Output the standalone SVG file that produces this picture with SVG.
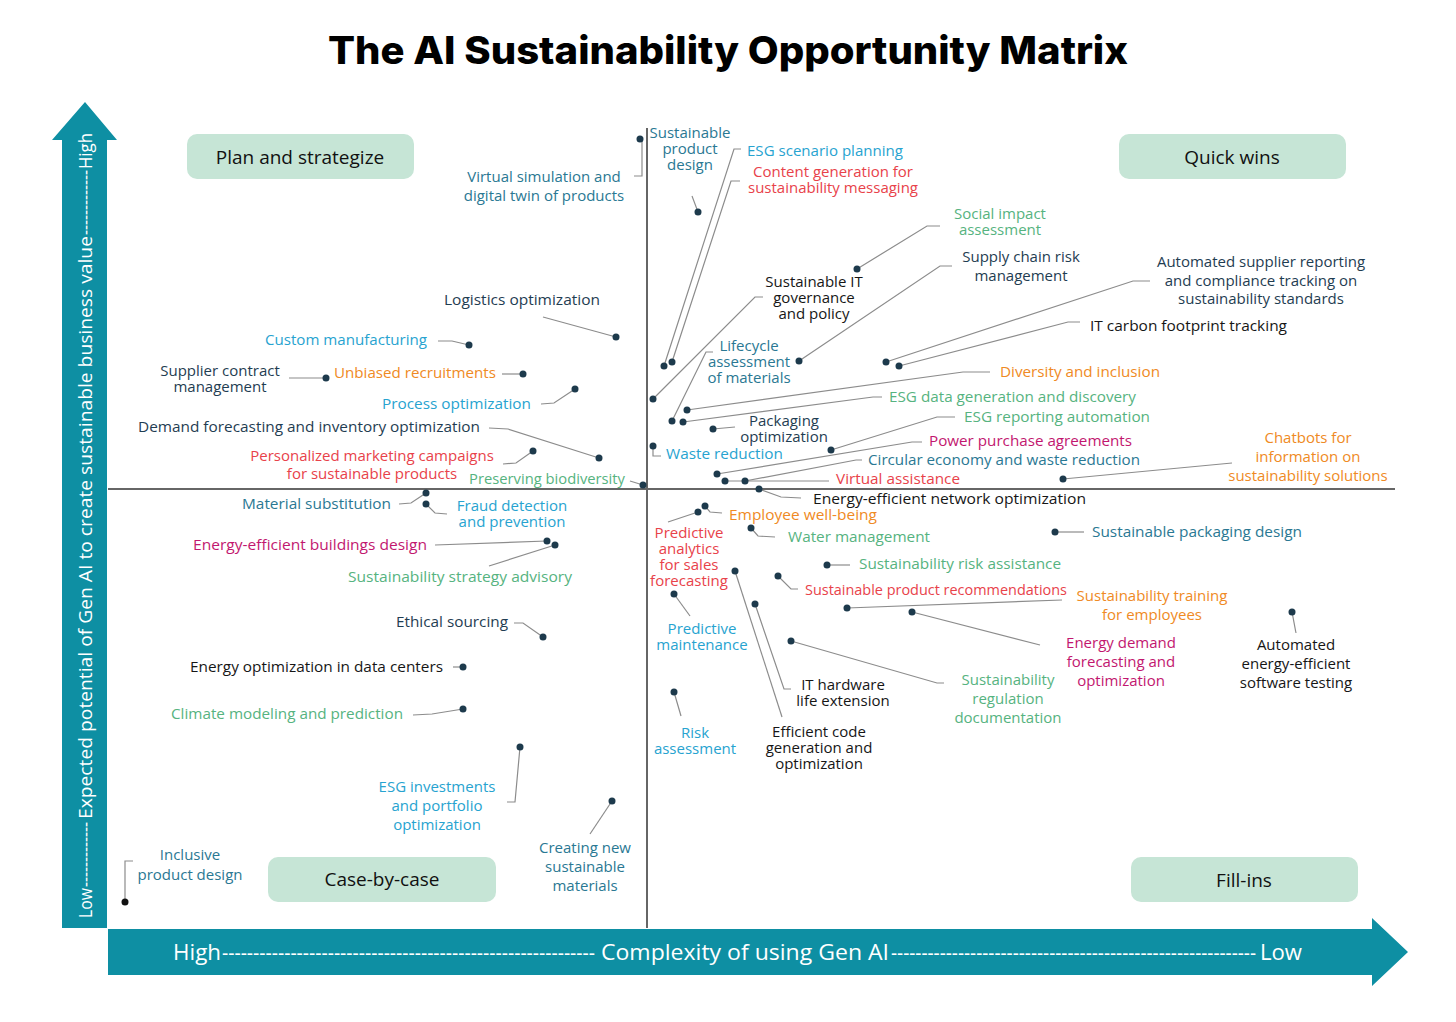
<svg xmlns="http://www.w3.org/2000/svg" width="1456" height="1022" viewBox="0 0 1456 1022">
<style>
text{font-family:"Open Sans","Noto Sans","DejaVu Sans",sans-serif;font-size:15px}
.m{text-anchor:middle}
.navy{fill:#1f3d52}.teal{fill:#2a7893}.lb{fill:#27a3d0}.gr{fill:#56b380}.rd{fill:#e8424a}.mg{fill:#c2176f}.or{fill:#ef8a24}.bk{fill:#161616}
.dot{fill:#1d3a4c}
.ln{fill:none;stroke:#8c8c8c;stroke-width:1.2}
.box{fill:#c6e5d6}
.q{font-size:19px;fill:#111;text-anchor:middle}
.ax{fill:#fff}
</style>
<rect width="1456" height="1022" fill="#fff"/>
<text x="728" y="64" text-anchor="middle" style="font-family:Inter,'Open Sans',sans-serif;font-size:38px;font-weight:800;fill:#000" textLength="800" lengthAdjust="spacingAndGlyphs">The AI Sustainability Opportunity Matrix</text>

<g id="axes">
<line x1="647" y1="128" x2="647" y2="928" stroke="#666" stroke-width="2"/>
<line x1="108" y1="489" x2="1395" y2="489" stroke="#666" stroke-width="2"/>
<polygon points="62,928 62,140 52,140 85,102 117,140 107,140 107,928" fill="#0e8fa3"/>
<polygon points="108,929 1372,929 1372,918 1408,952 1372,986 1372,975 108,975" fill="#0e8fa3"/>
<text class="ax" transform="translate(92,918) rotate(-90)" style="font-size:19px"><tspan x="0" textLength="30" lengthAdjust="spacingAndGlyphs">Low</tspan><tspan x="31" textLength="65" lengthAdjust="spacingAndGlyphs">-------------</tspan><tspan x="99" textLength="583" lengthAdjust="spacingAndGlyphs">Expected potential of Gen AI to create sustainable business value</tspan><tspan x="683" textLength="65" lengthAdjust="spacingAndGlyphs">-------------</tspan><tspan x="749" textLength="36" lengthAdjust="spacingAndGlyphs">High</tspan></text>
<text class="ax" y="960" style="font-size:21px"><tspan x="173" textLength="48" lengthAdjust="spacingAndGlyphs">High</tspan><tspan x="222" textLength="373" lengthAdjust="spacingAndGlyphs">------------------------------------------------------------</tspan><tspan x="601" textLength="288" lengthAdjust="spacingAndGlyphs">Complexity of using Gen AI</tspan><tspan x="891" textLength="365" lengthAdjust="spacingAndGlyphs">------------------------------------------------------------</tspan><tspan x="1260" textLength="42" lengthAdjust="spacingAndGlyphs">Low</tspan></text>
</g>

<g id="quadrants">
<g id="q-plan"><rect class="box" x="187" y="134" width="227" height="45" rx="10"/><text class="q" x="300" y="164">Plan and strategize</text></g>
<g id="q-quick"><rect class="box" x="1119" y="134" width="227" height="45" rx="10"/><text class="q" x="1232" y="164">Quick wins</text></g>
<g id="q-case"><rect class="box" x="268" y="857" width="228" height="45" rx="10"/><text class="q" x="382" y="886">Case-by-case</text></g>
<g id="q-fill"><rect class="box" x="1131" y="857" width="227" height="45" rx="10"/><text class="q" x="1244" y="887">Fill-ins</text></g>
</g>

<g id="connectors">
<polyline class="ln" points="642,141 642,176 634,176"/>
<polyline class="ln" points="692,196 698,212"/>
<polyline class="ln" points="741,149 734,149 664,366"/>
<polyline class="ln" points="740,181 731,181 672,362"/>
<polyline class="ln" points="857,269 927,226 940,226"/>
<polyline class="ln" points="799,361 940,266 952,266"/>
<polyline class="ln" points="763,297 755,297 653,399"/>
<polyline class="ln" points="1150,281 1133,281 886,362"/>
<polyline class="ln" points="1080,322 1068,322 899,366"/>
<polyline class="ln" points="543,317 616,337"/>
<polyline class="ln" points="438,341 452,341 469,345"/>
<polyline class="ln" points="289,378 326,378"/>
<polyline class="ln" points="502,374 523,374"/>
<polyline class="ln" points="541,404 554,403 575,389"/>
<polyline class="ln" points="489,428 508,429 599,458"/>
<polyline class="ln" points="503,464 516,463 533,451"/>
<polyline class="ln" points="630,481 643,485"/>
<polyline class="ln" points="713,352 706,352 672,421"/>
<polyline class="ln" points="713,429 735,427"/>
<polyline class="ln" points="653,446 653,456 661,456"/>
<polyline class="ln" points="687,410 963,372 990,372"/>
<polyline class="ln" points="683,422 873,397 882,397"/>
<polyline class="ln" points="831,450 937,417 955,417"/>
<polyline class="ln" points="717,474 912,442 922,442"/>
<polyline class="ln" points="745,481 856,460 862,460"/>
<polyline class="ln" points="725,481 829,481"/>
<polyline class="ln" points="759,489 781,497 801,498"/>
<polyline class="ln" points="1063,479 1232,463"/>
<polyline class="ln" points="705,506 710,512 722,513"/>
<polyline class="ln" points="698,512 668,522"/>
<polyline class="ln" points="751,528 758,536 775,537"/>
<polyline class="ln" points="827,565 850,565"/>
<polyline class="ln" points="778,576 791,589 798,589"/>
<polyline class="ln" points="847,608 1062,600"/>
<polyline class="ln" points="912,612 1040,645"/>
<polyline class="ln" points="1292,612 1296,633"/>
<polyline class="ln" points="1055,532 1084,532"/>
<polyline class="ln" points="755,604 784,689 791,689"/>
<polyline class="ln" points="735,571 782,717"/>
<polyline class="ln" points="791,641 937,683 944,683"/>
<polyline class="ln" points="674,594 690,616"/>
<polyline class="ln" points="674,692 681,716"/>
<polyline class="ln" points="426,493 411,503 399,504"/>
<polyline class="ln" points="426,504 435,513 447,514"/>
<polyline class="ln" points="435,545 547,541"/>
<polyline class="ln" points="555,545 489,566"/>
<polyline class="ln" points="514,623 523,623 543,637"/>
<polyline class="ln" points="453,667 463,667"/>
<polyline class="ln" points="413,715 432,714 463,709"/>
<polyline class="ln" points="520,747 515,802 507,802"/>
<polyline class="ln" points="612,801 590,834"/>
<polyline class="ln" points="125,902 125,861 133,861"/>
</g>

<g id="n-virtual-sim"><circle class="dot" cx="640" cy="139" r="3.5"/><text class="teal m"><tspan x="544" y="182">Virtual simulation and</tspan><tspan x="544" y="201">digital twin of products</tspan></text></g>
<g id="n-sust-product-design"><circle class="dot" cx="698" cy="212" r="3.5"/><text class="teal m"><tspan x="690" y="138">Sustainable</tspan><tspan x="690" y="154">product</tspan><tspan x="690" y="170">design</tspan></text></g>
<g id="n-esg-scenario"><circle class="dot" cx="664" cy="366" r="3.5"/><text class="lb" x="747" y="156" textLength="156" lengthAdjust="spacingAndGlyphs">ESG scenario planning</text></g>
<g id="n-content-gen"><circle class="dot" cx="672" cy="362" r="3.5"/><text class="rd m"><tspan x="833" y="177">Content generation for</tspan><tspan x="833" y="193">sustainability messaging</tspan></text></g>
<g id="n-social-impact"><circle class="dot" cx="857" cy="269" r="3.5"/><text class="gr m"><tspan x="1000" y="219">Social impact</tspan><tspan x="1000" y="235">assessment</tspan></text></g>
<g id="n-supply-chain"><circle class="dot" cx="799" cy="361" r="3.5"/><text class="navy m"><tspan x="1021" y="262">Supply chain risk</tspan><tspan x="1021" y="281">management</tspan></text></g>
<g id="n-it-gov"><circle class="dot" cx="653" cy="399" r="3.5"/><text class="bk m"><tspan x="814" y="287">Sustainable IT</tspan><tspan x="814" y="303">governance</tspan><tspan x="814" y="319">and policy</tspan></text></g>
<g id="n-auto-supplier"><circle class="dot" cx="886" cy="362" r="3.5"/><text class="navy m"><tspan x="1261" y="267">Automated supplier reporting</tspan><tspan x="1261" y="286">and compliance tracking on</tspan><tspan x="1261" y="304">sustainability standards</tspan></text></g>
<g id="n-it-carbon"><circle class="dot" cx="899" cy="366" r="3.5"/><text class="bk" x="1090" y="331" textLength="197" lengthAdjust="spacingAndGlyphs">IT carbon footprint tracking</text></g>
<g id="n-logistics"><circle class="dot" cx="616" cy="337" r="3.5"/><text class="navy" x="444" y="305" textLength="156" lengthAdjust="spacingAndGlyphs">Logistics optimization</text></g>
<g id="n-custom-manuf"><circle class="dot" cx="469" cy="345" r="3.5"/><text class="lb" x="265" y="345" textLength="162" lengthAdjust="spacingAndGlyphs">Custom manufacturing</text></g>
<g id="n-supplier-contract"><circle class="dot" cx="326" cy="378" r="3.5"/><text class="navy m"><tspan x="220" y="376">Supplier contract</tspan><tspan x="220" y="392">management</tspan></text></g>
<g id="n-unbiased"><circle class="dot" cx="523" cy="374" r="3.5"/><text class="or" x="334" y="378" textLength="162" lengthAdjust="spacingAndGlyphs">Unbiased recruitments</text></g>
<g id="n-process-opt"><circle class="dot" cx="575" cy="389" r="3.5"/><text class="lb" x="382" y="409" textLength="149" lengthAdjust="spacingAndGlyphs">Process optimization</text></g>
<g id="n-demand"><circle class="dot" cx="599" cy="458" r="3.5"/><text class="navy" x="138" y="432" textLength="342" lengthAdjust="spacingAndGlyphs">Demand forecasting and inventory optimization</text></g>
<g id="n-personalized"><circle class="dot" cx="533" cy="451" r="3.5"/><text class="rd m"><tspan x="372" y="461">Personalized marketing campaigns</tspan><tspan x="372" y="479">for sustainable products</tspan></text></g>
<g id="n-biodiversity"><circle class="dot" cx="643" cy="485" r="3.5"/><text class="gr" x="469" y="484" textLength="156" lengthAdjust="spacingAndGlyphs">Preserving biodiversity</text></g>
<g id="n-lifecycle"><circle class="dot" cx="672" cy="421" r="3.5"/><text class="teal m"><tspan x="749" y="351">Lifecycle</tspan><tspan x="749" y="367">assessment</tspan><tspan x="749" y="383">of materials</tspan></text></g>
<g id="n-packaging-opt"><circle class="dot" cx="713" cy="429" r="3.5"/><text class="navy m"><tspan x="784" y="426">Packaging</tspan><tspan x="784" y="442">optimization</tspan></text></g>
<g id="n-waste"><circle class="dot" cx="653" cy="446" r="3.5"/><text class="lb" x="666" y="459" textLength="117" lengthAdjust="spacingAndGlyphs">Waste reduction</text></g>
<g id="n-diversity"><circle class="dot" cx="687" cy="410" r="3.5"/><text class="or" x="1000" y="377" textLength="160" lengthAdjust="spacingAndGlyphs">Diversity and inclusion</text></g>
<g id="n-esg-data"><circle class="dot" cx="683" cy="422" r="3.5"/><text class="gr" x="889" y="402" textLength="247" lengthAdjust="spacingAndGlyphs">ESG data generation and discovery</text></g>
<g id="n-esg-reporting"><circle class="dot" cx="831" cy="450" r="3.5"/><text class="gr" x="964" y="422" textLength="186" lengthAdjust="spacingAndGlyphs">ESG reporting automation</text></g>
<g id="n-power"><circle class="dot" cx="717" cy="474" r="3.5"/><text class="mg" x="929" y="446" textLength="203" lengthAdjust="spacingAndGlyphs">Power purchase agreements</text></g>
<g id="n-circular"><circle class="dot" cx="745" cy="481" r="3.5"/><text class="teal" x="868" y="465" textLength="272" lengthAdjust="spacingAndGlyphs">Circular economy and waste reduction</text></g>
<g id="n-virtual-assist"><circle class="dot" cx="725" cy="481" r="3.5"/><text class="rd" x="836" y="484" textLength="124" lengthAdjust="spacingAndGlyphs">Virtual assistance</text></g>
<g id="n-energy-net"><circle class="dot" cx="759" cy="489" r="3.5"/><text class="bk" x="813" y="504" textLength="273" lengthAdjust="spacingAndGlyphs">Energy-efficient network optimization</text></g>
<g id="n-chatbots"><circle class="dot" cx="1063" cy="479" r="3.5"/><text class="or m"><tspan x="1308" y="443">Chatbots for</tspan><tspan x="1308" y="462">information on</tspan><tspan x="1308" y="481">sustainability solutions</tspan></text></g>
<g id="n-employee"><circle class="dot" cx="705" cy="506" r="3.5"/><text class="or" x="729" y="520" textLength="148" lengthAdjust="spacingAndGlyphs">Employee well-being</text></g>
<g id="n-pred-analytics"><circle class="dot" cx="698" cy="512" r="3.5"/><text class="rd m"><tspan x="689" y="538">Predictive</tspan><tspan x="689" y="554">analytics</tspan><tspan x="689" y="570">for sales</tspan><tspan x="689" y="586">forecasting</tspan></text></g>
<g id="n-water"><circle class="dot" cx="751" cy="528" r="3.5"/><text class="gr" x="788" y="542" textLength="142" lengthAdjust="spacingAndGlyphs">Water management</text></g>
<g id="n-sust-risk"><circle class="dot" cx="827" cy="565" r="3.5"/><text class="gr" x="859" y="569" textLength="202" lengthAdjust="spacingAndGlyphs">Sustainability risk assistance</text></g>
<g id="n-prod-rec"><circle class="dot" cx="778" cy="576" r="3.5"/><text class="rd" x="805" y="595" textLength="262" lengthAdjust="spacingAndGlyphs">Sustainable product recommendations</text></g>
<g id="n-training"><circle class="dot" cx="847" cy="608" r="3.5"/><text class="or m"><tspan x="1152" y="601">Sustainability training</tspan><tspan x="1152" y="620">for employees</tspan></text></g>
<g id="n-energy-demand"><circle class="dot" cx="912" cy="612" r="3.5"/><text class="mg m"><tspan x="1121" y="648">Energy demand</tspan><tspan x="1121" y="667">forecasting and</tspan><tspan x="1121" y="686">optimization</tspan></text></g>
<g id="n-auto-testing"><circle class="dot" cx="1292" cy="612" r="3.5"/><text class="bk m"><tspan x="1296" y="650">Automated</tspan><tspan x="1296" y="669">energy-efficient</tspan><tspan x="1296" y="688">software testing</tspan></text></g>
<g id="n-sust-packaging"><circle class="dot" cx="1055" cy="532" r="3.5"/><text class="teal" x="1092" y="537" textLength="210" lengthAdjust="spacingAndGlyphs">Sustainable packaging design</text></g>
<g id="n-it-hardware"><circle class="dot" cx="755" cy="604" r="3.5"/><text class="bk m"><tspan x="843" y="690">IT hardware</tspan><tspan x="843" y="706">life extension</tspan></text></g>
<g id="n-efficient-code"><circle class="dot" cx="735" cy="571" r="3.5"/><text class="bk m"><tspan x="819" y="737">Efficient code</tspan><tspan x="819" y="753">generation and</tspan><tspan x="819" y="769">optimization</tspan></text></g>
<g id="n-regulation"><circle class="dot" cx="791" cy="641" r="3.5"/><text class="gr m"><tspan x="1008" y="685">Sustainability</tspan><tspan x="1008" y="704">regulation</tspan><tspan x="1008" y="723">documentation</tspan></text></g>
<g id="n-pred-maint"><circle class="dot" cx="674" cy="594" r="3.5"/><text class="lb m"><tspan x="702" y="634">Predictive</tspan><tspan x="702" y="650">maintenance</tspan></text></g>
<g id="n-risk"><circle class="dot" cx="674" cy="692" r="3.5"/><text class="lb m"><tspan x="695" y="738">Risk</tspan><tspan x="695" y="754">assessment</tspan></text></g>
<g id="n-material-sub"><circle class="dot" cx="426" cy="493" r="3.5"/><text class="teal" x="242" y="509" textLength="149" lengthAdjust="spacingAndGlyphs">Material substitution</text></g>
<g id="n-fraud"><circle class="dot" cx="426" cy="504" r="3.5"/><text class="lb m"><tspan x="512" y="511">Fraud detection</tspan><tspan x="512" y="527">and prevention</tspan></text></g>
<g id="n-buildings"><circle class="dot" cx="547" cy="541" r="3.5"/><text class="mg" x="193" y="550" textLength="234" lengthAdjust="spacingAndGlyphs">Energy-efficient buildings design</text></g>
<g id="n-strategy"><circle class="dot" cx="555" cy="545" r="3.5"/><text class="gr" x="348" y="582" textLength="224" lengthAdjust="spacingAndGlyphs">Sustainability strategy advisory</text></g>
<g id="n-ethical"><circle class="dot" cx="543" cy="637" r="3.5"/><text class="navy" x="396" y="627" textLength="112" lengthAdjust="spacingAndGlyphs">Ethical sourcing</text></g>
<g id="n-energy-dc"><circle class="dot" cx="463" cy="667" r="3.5"/><text class="bk" x="190" y="672" textLength="253" lengthAdjust="spacingAndGlyphs">Energy optimization in data centers</text></g>
<g id="n-climate"><circle class="dot" cx="463" cy="709" r="3.5"/><text class="gr" x="171" y="719" textLength="232" lengthAdjust="spacingAndGlyphs">Climate modeling and prediction</text></g>
<g id="n-esg-invest"><circle class="dot" cx="520" cy="747" r="3.5"/><text class="lb m"><tspan x="437" y="792">ESG investments</tspan><tspan x="437" y="811">and portfolio</tspan><tspan x="437" y="830">optimization</tspan></text></g>
<g id="n-creating"><circle class="dot" cx="612" cy="801" r="3.5"/><text class="teal m"><tspan x="585" y="853">Creating new</tspan><tspan x="585" y="872">sustainable</tspan><tspan x="585" y="891">materials</tspan></text></g>
<g id="n-inclusive"><circle cx="125" cy="902" r="3.5" fill="#111"/><text class="teal m"><tspan x="190" y="860">Inclusive</tspan><tspan x="190" y="880">product design</tspan></text></g>
</svg>
